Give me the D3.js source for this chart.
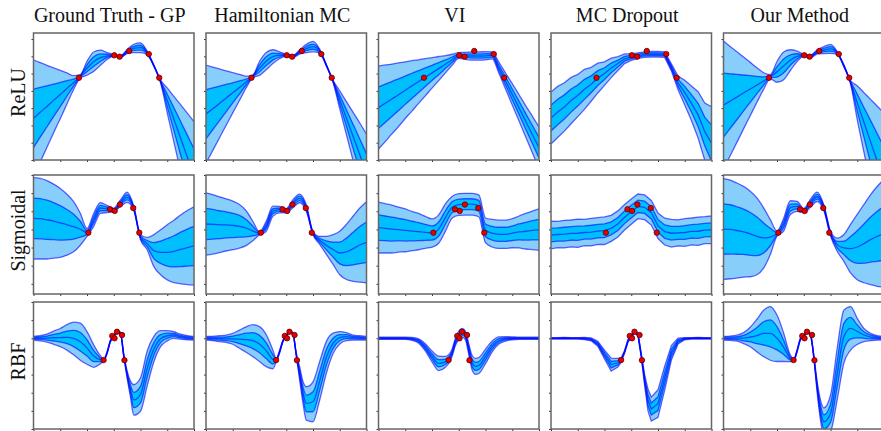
<!DOCTYPE html>
<html>
<head>
<meta charset="utf-8">
<script src="https://cdn.jsdelivr.net/npm/d3@7"></script>
<style>
  body { margin: 0; background: #fff; }
  text { font-family: "Liberation Serif", "Times New Roman", serif; }
</style>
</head>
<body>
<script>
// column titles and row labels
const methods = ["Ground Truth - GP", "Hamiltonian MC", "VI", "MC Dropout", "Our Method"];
const rowNames = ["ReLU", "Sigmoidal", "RBF"];

// tick values
const xTicks = [-3, -2, -1, 0, 1, 2, 3];
const reluTicks = [-4, -3, -2, -1, 0, 1, 2, 3];
const sigTicks = [-3, -2, -1, 0, 1, 2, 3];
const rbfTicks = [-5, -4, -3, -2, -1, 0, 1, 2];

// sample positions
const gridX = [-3, -2.75, -2.5, -2.25, -2, -1.75, -1.5, -1.25, -1, -0.75, -0.5, -0.25, 0,
  0.25, 0.5, 0.75, 1, 1.25, 1.5, 1.75, 2, 2.25, 2.5, 2.75, 3];
const rbfX = [-3, -2.75, -2.5, -2.25, -2, -1.75, -1.5, -1.25, -1, -0.75, -0.5, -0.375, -0.25, -0.125, 0,
  0.125, 0.25, 0.375, 0.5, 0.625, 0.75, 1, 1.25, 1.5, 1.75, 2, 2.25, 2.5, 2.75, 3];

// observed points (same in each row)
const reluPtX = [-1.3, 0.02, 0.22, 0.58, 1.31, 1.70];
const reluPtY = [0.76, 2.06, 1.98, 2.31, 2.13, 0.76];
const sigPtX = [-0.95, -0.14, 0.035, 0.23, 0.73, 0.955];
const sigPtY = [-0.18, 1.11, 1.02, 1.37, 1.18, -0.18];
const rbfPtX = [-0.38, -0.056, 0.03, 0.12, 0.31, 0.40];
const rbfPtY = [-1.2, 0.13, 0.0, 0.36, 0.18, -1.21];

// ReLU row: predictive mean and std
const reluGtMean = [-1.59, -1.24, -0.90, -0.55, -0.21, 0.14, 0.48, 0.84, 1.31, 1.69, 1.92, 2.02, 2.06, 1.99, 2.27, 2.46, 2.50, 2.2, 1.46, 0.55, -0.55, -1.64, -2.74, -3.83, -4.92];
const reluGtSd = [1.69, 1.44, 1.19, 0.94, 0.70, 0.45, 0.20, 0.05, 0.2, 0.28, 0.22, 0.1, 0.02, 0.03, 0.06, 0.12, 0.14, 0.05, 0.02, 0.04, 0.36, 0.66, 0.97, 1.27, 1.57];
const reluHmcMean = [-1.35, -1.04, -0.73, -0.42, -0.11, 0.20, 0.51, 0.84, 1.30, 1.72, 1.98, 2.06, 2.06, 2.0, 2.25, 2.45, 2.56, 2.3, 1.48, 0.55, -0.52, -1.58, -2.64, -3.70, -4.77];
const reluHmcSd = [1.42, 1.21, 1.0, 0.79, 0.58, 0.38, 0.17, 0.04, 0.2, 0.25, 0.2, 0.1, 0.03, 0.03, 0.06, 0.12, 0.15, 0.06, 0.02, 0.03, 0.26, 0.48, 0.7, 0.92, 1.13];
const reluViMean = [-0.97, -0.72, -0.47, -0.22, 0.04, 0.29, 0.54, 0.79, 1.04, 1.29, 1.54, 1.80, 2.05, 2.03, 2.02, 2.02, 2.03, 2.05, 1.34, 0.57, -0.20, -0.97, -1.75, -2.52, -3.29];
const reluViSd = [1.2, 1.11, 1.01, 0.92, 0.82, 0.73, 0.63, 0.54, 0.44, 0.35, 0.25, 0.16, 0.08, 0.1, 0.12, 0.12, 0.12, 0.1, 0.16, 0.23, 0.31, 0.38, 0.45, 0.53, 0.6];
const reluMcMean = [-1.57, -1.22, -0.93, -0.56, -0.27, 0.09, 0.38, 0.74, 1.00, 1.33, 1.58, 1.86, 1.96, 2.04, 2.10, 2.12, 2.12, 2.10, 1.36, 0.46, -0.10, -0.72, -1.39, -2.36, -3.02];
const reluMcSd = [0.75, 0.74, 0.70, 0.67, 0.61, 0.58, 0.49, 0.43, 0.34, 0.28, 0.2, 0.14, 0.1, 0.08, 0.08, 0.08, 0.08, 0.08, 0.1, 0.2, 0.36, 0.5, 0.67, 0.83, 1.05];
const reluOurMean = [-0.82, -0.59, -0.36, -0.12, 0.11, 0.34, 0.57, 0.82, 1.1, 1.45, 1.78, 2.0, 2.06, 2.0, 2.25, 2.36, 2.43, 2.2, 1.45, 0.5, -0.68, -1.82, -2.95, -4.09, -5.22];
const reluOurSd = [1.85, 1.58, 1.31, 1.04, 0.77, 0.5, 0.24, 0.06, 0.3, 0.4, 0.3, 0.15, 0.03, 0.04, 0.06, 0.1, 0.13, 0.04, 0.03, 0.05, 0.49, 0.86, 1.23, 1.6, 1.97];

// Sigmoidal row
const sigGtMean = [0.61, 0.59, 0.53, 0.46, 0.36, 0.26, 0.15, 0.01, -0.17, 0.52, 1.18, 1.13, 1.07, 1.44, 1.77, 1.16, -0.43, -0.78, -1.17, -1.26, -1.26, -1.21, -1.10, -1.00, -0.91];
const sigGtSd = [1.12, 1.11, 1.08, 1.02, 0.95, 0.84, 0.69, 0.44, 0.11, 0.18, 0.15, 0.1, 0.05, 0.09, 0.14, 0.06, 0.07, 0.17, 0.44, 0.62, 0.76, 0.86, 0.95, 1.02, 1.08];
const sigHmcMean = [0.30, 0.28, 0.26, 0.25, 0.22, 0.17, 0.07, -0.09, -0.21, 0.17, 1.0, 1.09, 1.03, 1.42, 1.71, 1.18, -0.21, -0.6, -0.88, -1.11, -1.30, -1.24, -1.06, -0.86, -0.71];
const sigHmcSd = [0.86, 0.82, 0.77, 0.72, 0.67, 0.60, 0.48, 0.27, 0.04, 0.14, 0.14, 0.09, 0.06, 0.11, 0.12, 0.09, 0.04, 0.11, 0.25, 0.41, 0.6, 0.76, 0.9, 1.02, 1.12];
const sigViMean = [0.10, 0.06, 0.02, -0.01, -0.05, -0.09, -0.12, -0.16, -0.2, 0.02, 0.65, 1.22, 1.37, 1.39, 1.39, 1.3, -0.05, -0.21, -0.27, -0.27, -0.21, -0.14, -0.10, -0.05, -0.01];
const sigViSd = [0.70, 0.68, 0.66, 0.62, 0.59, 0.54, 0.50, 0.44, 0.39, 0.39, 0.38, 0.3, 0.3, 0.3, 0.3, 0.3, 0.34, 0.38, 0.39, 0.39, 0.40, 0.44, 0.49, 0.53, 0.57];
const sigMcMean = [-0.31, -0.28, -0.26, -0.22, -0.21, -0.17, -0.15, -0.09, -0.07, 0.06, 0.30, 0.67, 0.98, 1.27, 1.22, 0.92, 0.2, -0.12, -0.21, -0.19, -0.17, -0.11, -0.10, -0.04, -0.02];
const sigMcSd = [0.38, 0.36, 0.38, 0.37, 0.39, 0.36, 0.38, 0.37, 0.38, 0.36, 0.36, 0.35, 0.35, 0.34, 0.34, 0.34, 0.35, 0.37, 0.38, 0.36, 0.38, 0.37, 0.39, 0.37, 0.38];
const sigOurMean = [0.02, 0.0, -0.06, -0.13, -0.25, -0.38, -0.47, -0.42, -0.23, 0.26, 1.2, 1.27, 1.03, 1.44, 1.8, 1.2, -0.23, -0.84, -1.02, -1.06, -0.97, -0.78, -0.56, -0.38, -0.21];
const sigOurSd = [1.39, 1.36, 1.31, 1.25, 1.18, 1.06, 0.83, 0.48, 0.07, 0.18, 0.19, 0.14, 0.06, 0.11, 0.13, 0.08, 0.07, 0.18, 0.37, 0.67, 0.9, 1.08, 1.24, 1.38, 1.49];

// RBF row
const rbfGtMean = [0.0, 0.0, 0.01, 0.03, 0.04, 0.05, -0.01, -0.19, -0.53, -0.98, -1.18, -1.2, -0.8, -0.15, 0.1, 0.34, 0.28, -0.95, -2.0, -2.8, -3.4, -3.1, -1.66, -0.59, -0.02, 0.14, 0.18, 0.09, 0.03, 0.0];
const rbfGtSd = [0.05, 0.07, 0.11, 0.18, 0.25, 0.35, 0.45, 0.51, 0.45, 0.31, 0.11, 0.03, 0.03, 0.03, 0.03, 0.03, 0.03, 0.04, 0.1, 0.22, 0.42, 0.46, 0.48, 0.35, 0.22, 0.14, 0.09, 0.07, 0.06, 0.05];
const rbfHmcMean = [0.0, -0.01, -0.02, -0.03, -0.03, -0.05, -0.07, -0.13, -0.32, -0.68, -1.16, -1.2, -0.75, -0.15, 0.12, 0.36, 0.25, -0.9, -1.93, -2.98, -3.59, -3.5, -2.34, -1.05, -0.28, 0.03, 0.09, 0.04, 0.02, 0.0];
const rbfHmcSd = [0.05, 0.06, 0.08, 0.1, 0.15, 0.25, 0.35, 0.44, 0.48, 0.44, 0.26, 0.05, 0.04, 0.03, 0.03, 0.03, 0.03, 0.04, 0.18, 0.3, 0.46, 0.55, 0.53, 0.44, 0.28, 0.17, 0.11, 0.07, 0.06, 0.05];
const rbfViMean = [0, 0, 0, 0, 0, -0.03, -0.15, -0.5, -1.0, -1.38, -1.3, -1.15, -0.8, -0.2, 0.15, 0.3, 0.15, -0.6, -1.35, -1.55, -1.5, -1.0, -0.45, -0.12, -0.03, 0, 0, 0, 0, 0];
const rbfViSd = [0.03, 0.03, 0.03, 0.03, 0.03, 0.04, 0.06, 0.1, 0.15, 0.2, 0.15, 0.12, 0.1, 0.1, 0.12, 0.12, 0.12, 0.15, 0.2, 0.22, 0.22, 0.2, 0.15, 0.1, 0.06, 0.04, 0.03, 0.03, 0.03, 0.03];
const rbfMcMean = [0, 0, 0.01, 0, 0, -0.01, -0.06, -0.3, -0.9, -1.45, -1.35, -1.2, -0.75, -0.15, 0.12, 0.35, 0.22, -0.95, -2.3, -3.4, -3.9, -3.6, -2.2, -0.8, -0.15, -0.02, 0, 0.01, 0, 0];
const rbfMcSd = [0.02, 0.02, 0.02, 0.02, 0.02, 0.03, 0.04, 0.07, 0.12, 0.18, 0.12, 0.06, 0.04, 0.04, 0.04, 0.04, 0.04, 0.06, 0.15, 0.3, 0.33, 0.38, 0.33, 0.2, 0.08, 0.03, 0.02, 0.02, 0.02, 0.02];
const rbfOurMean = [0.0, 0.0, 0.01, 0.01, 0.07, 0.15, 0.27, 0.27, 0.0, -0.5, -1.11, -1.2, -0.7, -0.05, 0.12, 0.35, 0.2, -1.0, -2.67, -3.95, -4.6, -4.14, -1.97, 0.09, 0.55, 0.38, 0.18, 0.07, 0.02, 0.0];
const rbfOurSd = [0.05, 0.06, 0.08, 0.15, 0.27, 0.45, 0.64, 0.74, 0.64, 0.39, 0.09, 0.03, 0.03, 0.03, 0.03, 0.03, 0.03, 0.04, 0.15, 0.28, 0.38, 0.5, 0.71, 0.73, 0.6, 0.36, 0.18, 0.1, 0.06, 0.05];

const rows = [
  { xs: gridX, ticks: reluTicks, domain: [-4, 3.35], px: reluPtX, py: reluPtY,
    series: [[reluGtMean, reluGtSd], [reluHmcMean, reluHmcSd], [reluViMean, reluViSd], [reluMcMean, reluMcSd], [reluOurMean, reluOurSd]] },
  { xs: gridX, ticks: sigTicks, domain: [-3.56, 3], px: sigPtX, py: sigPtY,
    series: [[sigGtMean, sigGtSd], [sigHmcMean, sigHmcSd], [sigViMean, sigViSd], [sigMcMean, sigMcSd], [sigOurMean, sigOurSd]] },
  { xs: rbfX, ticks: rbfTicks, domain: [-5, 2], px: rbfPtX, py: rbfPtY,
    series: [[rbfGtMean, rbfGtSd], [rbfHmcMean, rbfHmcSd], [rbfViMean, rbfViSd], [rbfMcMean, rbfMcSd], [rbfOurMean, rbfOurSd]] }
];

var width = 881, height = 431;
var colLeft = [33.5, 206, 378.5, 551, 723.5];
var panelW = 160.5;
var rowTop = [33, 175, 302];
var rowBottom = [160, 294, 429];

var svg = d3.select("body").append("svg")
  .attr("width", width)
  .attr("height", height);

// titles
methods.forEach(function (m, j) {
  svg.append("text")
    .attr("x", colLeft[j] + panelW / 2 - 4)
    .attr("y", 22)
    .attr("text-anchor", "middle")
    .attr("font-size", "20px")
    .attr("fill", "#111")
    .text(m);
});

rowNames.forEach(function (r, i) {
  var cy = (rowTop[i] + rowBottom[i]) / 2 - 4;
  svg.append("text")
    .attr("transform", "translate(25," + cy + ") rotate(-90)")
    .attr("text-anchor", "middle")
    .attr("font-size", "20px")
    .attr("fill", "#111")
    .text(r);
});

rows.forEach(function (row, i) {
  var y = d3.scaleLinear().domain(row.domain).range([rowBottom[i], rowTop[i]]);

  row.series.forEach(function (s, j) {
    var x = d3.scaleLinear().domain([-3, 3]).range([colLeft[j], colLeft[j] + panelW]);
    var mean = s[0], sd = s[1];
    var pts = row.xs.map(function (xv, k) { return { x: xv, m: mean[k], s: sd[k] }; });
    var curve = j === 3 ? d3.curveLinear : d3.curveMonotoneX;

    var clipId = "clip-" + i + "-" + j;
    svg.append("clipPath").attr("id", clipId)
      .append("rect")
      .attr("x", colLeft[j]).attr("y", rowTop[i])
      .attr("width", panelW).attr("height", rowBottom[i] - rowTop[i]);

    var g = svg.append("g").attr("clip-path", "url(#" + clipId + ")");

    var band = function (k) {
      return d3.area()
        .x(function (d) { return x(d.x); })
        .y0(function (d) { return y(d.m - k * d.s); })
        .y1(function (d) { return y(d.m + k * d.s); })
        .curve(curve);
    };

    g.append("path").attr("d", band(2)(pts)).attr("fill", "#87cefa");
    g.append("path").attr("d", band(1)(pts)).attr("fill", "#00bfff");

    [-2, -1, 0, 1, 2].forEach(function (k) {
      var line = d3.line()
        .x(function (d) { return x(d.x); })
        .y(function (d) { return y(d.m + k * d.s); })
        .curve(curve);
      g.append("path")
        .attr("d", line(pts))
        .attr("fill", "none")
        .attr("stroke", "#0000ff")
        .attr("stroke-opacity", 0.6)
        .attr("stroke-width", 1.3);
    });

    g.selectAll("circle.obs")
      .data(row.px.map(function (v, k) { return { x: v, y: row.py[k] }; }))
      .enter().append("circle")
      .attr("class", "obs")
      .attr("cx", function (d) { return x(d.x); })
      .attr("cy", function (d) { return y(d.y); })
      .attr("r", 2.7)
      .attr("fill", "#e80000")
      .attr("stroke", "#5a0000")
      .attr("stroke-width", 0.8);

    // axes: small outward ticks, no labels
    var ya = svg.append("g")
      .attr("transform", "translate(" + colLeft[j] + ",0)")
      .call(d3.axisLeft(y).tickValues(row.ticks).tickSize(2).tickFormat(""));
    ya.select(".domain").remove();
    ya.selectAll("line").attr("stroke", "#333");

    var xa = svg.append("g")
      .attr("transform", "translate(0," + rowBottom[i] + ")")
      .call(d3.axisBottom(x).tickValues(xTicks).tickSize(2).tickFormat(""));
    xa.select(".domain").remove();
    xa.selectAll("line").attr("stroke", "#333");

    svg.append("rect")
      .attr("x", colLeft[j]).attr("y", rowTop[i])
      .attr("width", panelW).attr("height", rowBottom[i] - rowTop[i])
      .attr("fill", "none")
      .attr("stroke", "#666")
      .attr("stroke-width", 1.5);
  });
});
</script>
</body>
</html>
